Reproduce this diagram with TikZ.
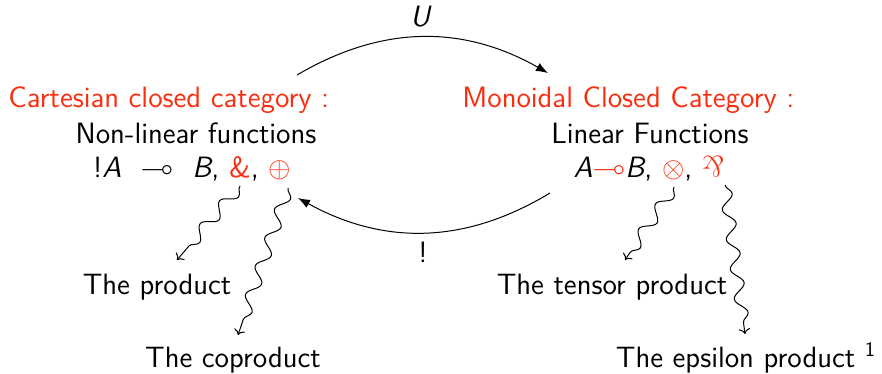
\documentclass[tikz,border=0pt]{standalone}
\usepackage{amssymb}
\usepackage{graphicx}
\usetikzlibrary{decorations.pathmorphing,arrows.meta}
\definecolor{bred}{RGB}{250,45,15}
\begin{document}
\begin{tikzpicture}[x=0.5pt,y=-0.5pt,
  txt/.style={inner sep=0pt,anchor=base,font=\fontsize{14.7}{17.5}\selectfont\sffamily},
  rtxt/.style={txt,text=bred},
  wig/.style={->,line width=0.5pt,decorate,decoration={snake,amplitude=3pt,segment length=15pt,post length=3pt}},
  arc/.style={-{Latex[length=6pt,width=4.5pt]},line width=0.5pt}]
\useasboundingbox (0,0) rectangle (882,374);
% headings
\node[rtxt,anchor=base west] (cart) at (8,107) {Cartesian closed category :};
\node[txt] (nonlin) at (196,143) {Non-linear functions};
\node[txt] (fl) at (192,177) {!\textit{A}\ \ $\multimap$\ \ \textit{B}, {\color{bred}\&}, {\color{bred}$\oplus$}};
\node[rtxt,anchor=base west] (mon) at (462,107) {Monoidal Closed Category :};
\node[txt] (lin) at (650,143) {Linear Functions};
\node[txt] (fr) at (649,177) {\textit{A}{\color{bred}$\multimap$}\textit{B}, {\color{bred}$\otimes$}, {\color{bred}\rotatebox[origin=c]{180}{\rmfamily\&}}};
% arcs
\node[txt] (U) at (421,27) {\textit{U}};
\node[txt] (bang) at (423,262) {!};
\coordinate (ua) at (297,75);
\coordinate (ub) at (548,73);
\coordinate (ba) at (550,193);
\coordinate (bb) at (298,198);
\draw[arc] (ua) to[bend left=30] (ub);
\draw[arc] (ba) to[bend left=30] (bb);
% labels
\node[txt] (prod) at (157,294) {The product};
\node[txt] (coprod) at (233,367) {The coproduct};
\node[txt] (tens) at (612,294) {The tensor product};
\node[txt] (eps) at (746,367) {The epsilon product \textsuperscript{1}};
% snake starts/ends
\coordinate (amp) at (240,186);
\coordinate (opl) at (288,188);
\coordinate (otm) at (674,187);
\coordinate (par) at (725,185);
\coordinate (prodin) at (177,260);
\coordinate (coprodin) at (238,335);
\coordinate (tensin) at (625,260);
\coordinate (epsin) at (745,334);
\draw[wig] (amp) -- (prodin);
\draw[wig] (opl) -- (coprodin);
\draw[wig] (otm) -- (tensin);
\draw[wig] (par) -- (epsin);
\end{tikzpicture}
\end{document}
